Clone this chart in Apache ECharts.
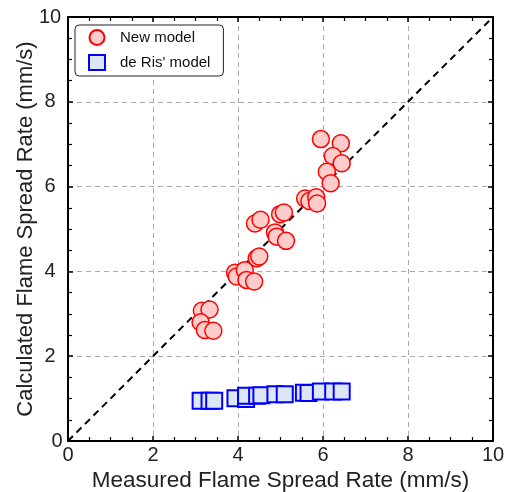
<!DOCTYPE html>
<html>
<head>
<meta charset="utf-8">
<script src="https://cdn.jsdelivr.net/npm/echarts@6/dist/echarts.min.js"></script>
<style>
  html, body { margin: 0; padding: 0; background: #fff; }
  #chart { width: 505px; height: 492px; }
</style>
</head>
<body>
<div id="chart"></div>
<script>
// measured vs calculated flame spread rate (mm/s)
const newModel = [
  [3.15, 3.07], [3.33, 3.10], [3.12, 2.80], [3.22, 2.62], [3.42, 2.60],
  [3.93, 3.97], [3.97, 3.88], [4.16, 4.03], [4.20, 3.80], [4.38, 3.76],
  [4.44, 4.31], [4.50, 4.35],
  [4.40, 5.13], [4.53, 5.22],
  [4.87, 4.92], [4.91, 4.82], [5.13, 4.72],
  [4.99, 5.35], [5.08, 5.39],
  [5.58, 5.72], [5.68, 5.66], [5.84, 5.75], [5.86, 5.60],
  [5.95, 7.12], [6.42, 7.02], [6.23, 6.72], [6.44, 6.55], [6.09, 6.35], [6.18, 6.08]
];

const deRisModel = [
  [3.12, 0.95], [3.33, 0.95], [3.44, 0.95],
  [3.94, 1.01], [4.19, 0.99], [4.19, 1.07], [4.45, 1.07], [4.55, 1.08],
  [4.88, 1.10], [5.10, 1.10],
  [5.55, 1.14], [5.66, 1.13],
  [5.95, 1.17], [6.24, 1.17], [6.44, 1.17]
];

const parityLine = [[0, 0], [10, 10]];

const axisMin = 0;
const axisMax = 10;
const labelStep = 2;

const font = 'Liberation Sans, Arial, sans-serif';

const chart = echarts.init(document.getElementById('chart'));

function mainAxis(name, gap) {
  return {
    type: 'value',
    min: axisMin,
    max: axisMax,
    interval: labelStep,
    name: name,
    nameLocation: 'middle',
    nameGap: gap,
    nameMoveOverlap: false,
    nameTextStyle: { color: '#222', fontSize: 22, fontFamily: font },
    axisLine: { lineStyle: { color: '#000', width: 2 } },
    axisTick: { inside: true, length: 5, lineStyle: { color: '#000', width: 1.5 } },
    minorTick: { show: true, splitNumber: 4, length: 4, lineStyle: { color: '#000', width: 1.2 } },
    axisLabel: { color: '#222', fontSize: 20, fontFamily: font, margin: 4 },
    splitLine: { show: true, lineStyle: { color: '#aaa', type: [5, 4], width: 1 } }
  };
}

function mirrorAxis(pos) {
  return {
    type: 'value',
    position: pos,
    min: axisMin,
    max: axisMax,
    interval: labelStep,
    axisLine: { show: true, onZero: false, lineStyle: { color: '#000', width: 2 } },
    axisTick: { inside: true, length: 5, lineStyle: { color: '#000', width: 1.5 } },
    minorTick: { show: true, splitNumber: 4, length: 4, lineStyle: { color: '#000', width: 1.2 } },
    axisLabel: { show: false },
    splitLine: { show: false }
  };
}

const xMain = mainAxis('Measured Flame Spread Rate (mm/s)', 28);
xMain.nameTextStyle.fontSize = 22.5;
const yMain = mainAxis('Calculated Flame Spread Rate (mm/s)', 31);
// y tick labels sit centred, the zero nudged toward the corner
yMain.axisLabel.margin = 18;
yMain.axisLabel.align = 'center';
yMain.axisLabel.formatter = v => (v === 0 ? '{z|0}' : String(v));
yMain.axisLabel.rich = { z: { fontSize: 20, fontFamily: font, color: '#222', padding: [0, 0, 0, 14] } };

chart.setOption({
  animation: false,
  grid: { left: 68, right: 12, top: 17, bottom: 51, containLabel: false, outerBoundsMode: 'none' },
  xAxis: [xMain, mirrorAxis('top')],
  yAxis: [yMain, mirrorAxis('right')],
  legend: {
    left: 75,
    top: 25,
    orient: 'vertical',
    itemGap: 8,
    itemWidth: 16,
    itemHeight: 15,
    padding: [4, 13, 5, 13],
    borderColor: '#222',
    borderWidth: 1,
    borderRadius: 4,
    backgroundColor: '#fff',
    textStyle: { color: '#111', fontSize: 15, fontFamily: font, padding: [0, 0, 0, 10] },
    data: ['New model', "de Ris' model"]
  },
  series: [
    {
      name: 'parity',
      type: 'line',
      data: parityLine,
      symbol: 'none',
      silent: true,
      lineStyle: { color: '#000', width: 2, type: [7, 5] },
      z: 3
    },
    {
      name: "de Ris' model",
      type: 'scatter',
      data: deRisModel,
      symbol: 'rect',
      symbolSize: [16, 16],
      itemStyle: { color: '#dde7f4', borderColor: '#0000ff', borderWidth: 2, opacity: 1 },
      z: 4
    },
    {
      name: 'New model',
      type: 'scatter',
      data: newModel,
      symbol: 'circle',
      symbolSize: 17,
      itemStyle: { color: '#ffcccc', borderColor: '#ff0000', borderWidth: 1.5, opacity: 1 },
      z: 5
    }
  ]
});
</script>
</body>
</html>
